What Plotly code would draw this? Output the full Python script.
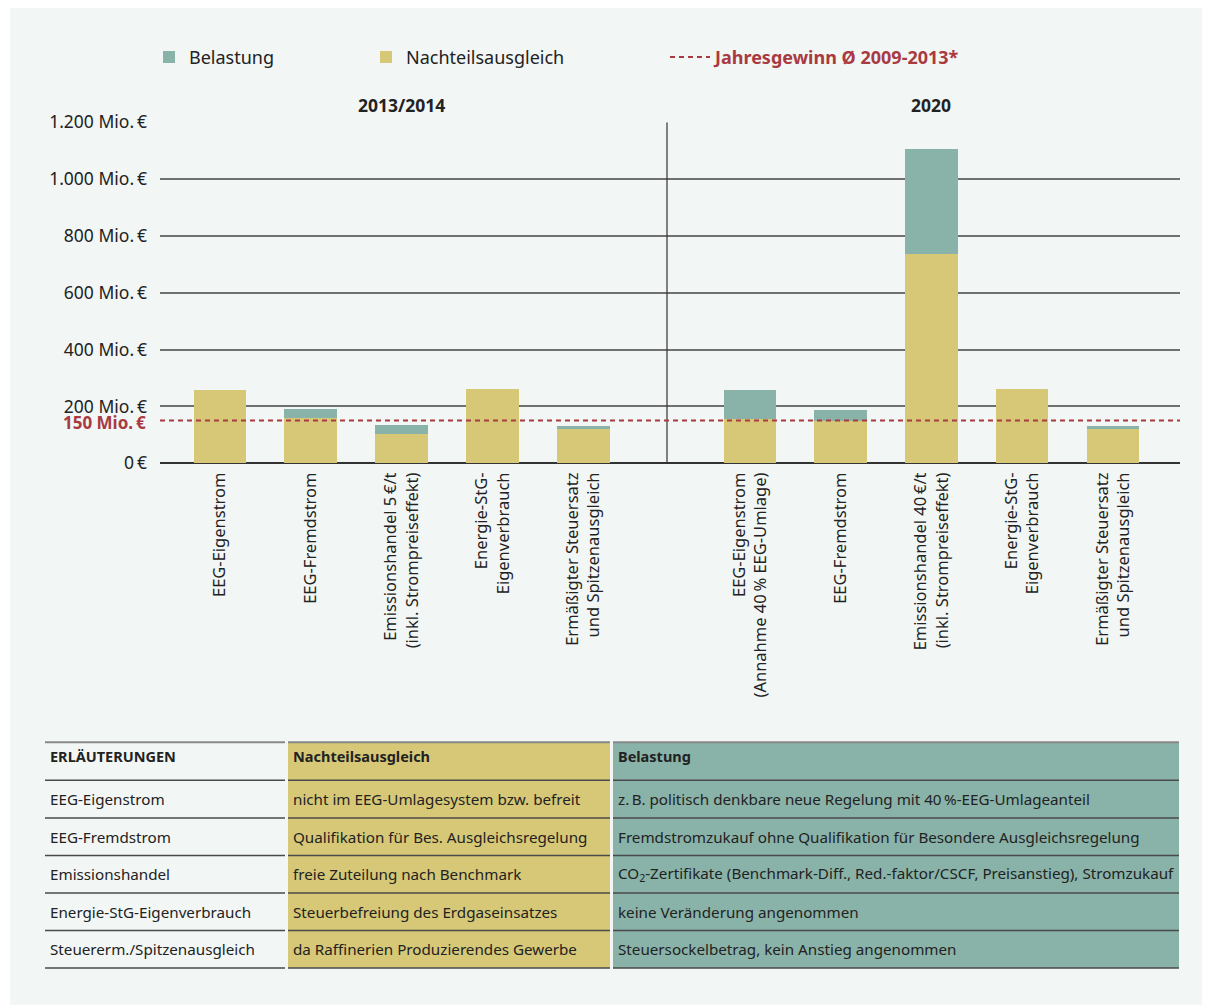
import plotly.graph_objects as go

W, H = 1210, 1007
PAD = 8          # browser body margin
Y_SCALE = 0.9765  # vertical scale observed in the rendered page
Y_OFF = 21.2      # vertical offset observed in the rendered page
FW, FH = W - 2 * PAD, 1012

# --- chart data (Mio. EUR) ---
labels_2013 = [
    "EEG-Eigenstrom",
    "EEG-Fremdstrom",
    "Emissionshandel 5\u202f€/t<br>(inkl. Strompreiseffekt)",
    "Energie-StG-<br>Eigenverbrauch",
    "Ermäßigter Steuersatz<br>und Spitzenausgleich",
]
nachteil_2013 = [257, 159, 103, 261, 120]
belastung_2013 = [0, 31, 31, 0, 11]

labels_2020 = [
    "EEG-Eigenstrom<br>(Annahme 40\u202f% EEG-Umlage)",
    "EEG-Fremdstrom",
    "Emissionshandel 40\u202f€/t<br>(inkl. Strompreiseffekt)",
    "Energie-StG-<br>Eigenverbrauch",
    "Ermäßigter Steuersatz<br>und Spitzenausgleich",
]
nachteil_2020 = [155, 149, 734, 261, 120]
belastung_2020 = [102, 38, 372, 0, 11]

jahresgewinn = 150
y_ticks = [0, 200, 400, 600, 800, 1000, 1200]
y_ticktext = ["0\u202f€", "200 Mio.\u202f€", "400 Mio.\u202f€", "600 Mio.\u202f€",
              "800 Mio.\u202f€", "1.000 Mio.\u202f€", "1.200 Mio.\u202f€"]

# --- explanation table ---
table_header = ["ERLÄUTERUNGEN", "Nachteilsausgleich", "Belastung"]
table_col1 = ["EEG-Eigenstrom", "EEG-Fremdstrom", "Emissionshandel",
              "Energie-StG-Eigenverbrauch", "Steuererm./Spitzenausgleich"]
table_col2 = ["nicht im EEG-Umlagesystem bzw. befreit",
              "Qualifikation für Bes. Ausgleichsregelung",
              "freie Zuteilung nach Benchmark",
              "Steuerbefreiung des Erdgaseinsatzes",
              "da Raffinerien Produzierendes Gewerbe"]
table_col3 = ["z.\u202fB. politisch denkbare neue Regelung mit 40\u202f%-EEG-Umlageanteil",
              "Fremdstromzukauf ohne Qualifikation für Besondere Ausgleichsregelung",
              "CO<sub>2</sub>-Zertifikate (Benchmark-Diff., Red.-faktor/CSCF, Preisanstieg), Stromzukauf",
              "keine Veränderung angenommen",
              "Steuersockelbetrag, kein Anstieg angenommen"]

TEAL = "#89b2a8"
YELLOW = "#d6c877"
RED = "#a93a42"
BG = "#f2f6f5"
TEXT = "#222222"
FONT = "Noto Sans"


def px(x):
    return (x - PAD) / FW


def py(y):
    return 1 - (y / Y_SCALE - Y_OFF) / FH


fig = go.Figure()

for xa, labels, nach, bel, first in [
    ("x", labels_2013, nachteil_2013, belastung_2013, True),
    ("x2", labels_2020, nachteil_2020, belastung_2020, False),
]:
    fig.add_trace(go.Bar(
        x=labels, y=nach, xaxis=xa, yaxis="y", width=0.58,
        marker=dict(color=YELLOW, line=dict(width=0)),
        name="Nachteilsausgleich", legend="legend2", showlegend=first,
    ))
    fig.add_trace(go.Bar(
        x=labels, y=bel, xaxis=xa, yaxis="y", width=0.58,
        marker=dict(color=TEAL, line=dict(width=0)),
        name="Belastung", legend="legend", showlegend=first,
    ))

# background panel
fig.add_shape(type="path", xref="paper", yref="paper", layer="below",
              path=f"M {px(10)} {py(1005)} L {px(10)} {py(7)} L {px(995)} {py(7)} "
                   f"L {px(1000)} {py(0)} L {px(1210)} {py(0)} L {px(1210)} {py(1005)} Z",
              fillcolor=BG, line=dict(width=0))

# divider between periods
fig.add_shape(type="line", xref="paper", yref="y", x0=px(667), x1=px(667),
              y0=0, y1=y_ticks[-1], line=dict(color="#333333", width=1.2))

# Jahresgewinn line
fig.add_shape(type="line", xref="paper", yref="y", x0=px(160), x1=px(1180),
              y0=jahresgewinn, y1=jahresgewinn,
              line=dict(color=RED, width=2, dash="5px,4px"),
              showlegend=True, legend="legend3",
              name="<b>Jahresgewinn Ø 2009-2013*</b>")

fig.add_annotation(xref="paper", yref="y", x=px(148), y=jahresgewinn, yshift=-2,
                   xanchor="right", yanchor="middle", showarrow=False,
                   text="<b>150 Mio.\u202f€</b>", font=dict(color=RED, size=17, family=FONT))

fig.add_annotation(xref="x", yref="y", x=labels_2013[2], y=y_ticks[-1], yshift=17,
                   showarrow=False, text="<b>2013/2014</b>",
                   font=dict(size=17.5, color=TEXT, family=FONT))
fig.add_annotation(xref="x2", yref="y", x=labels_2020[2], y=y_ticks[-1], yshift=17,
                   showarrow=False, text="<b>2020</b>",
                   font=dict(size=17.5, color=TEXT, family=FONT))

# --- table drawn as shapes + text ---
col_edges = [(45, 285), (288, 610), (613, 1179)]
col_fill = [None, YELLOW, TEAL]
row_lines = [742, 780, 818, 855.5, 893, 930.5, 968]
for (x0, x1), fill in zip(col_edges, col_fill):
    if fill:
        fig.add_shape(type="rect", xref="paper", yref="paper", layer="below",
                      x0=px(x0), x1=px(x1), y0=py(row_lines[0]), y1=py(row_lines[-1]),
                      fillcolor=fill, line=dict(width=0))
    for i, yl in enumerate(row_lines):
        col = "#888888" if i == 0 else "#4a4a4a"
        fig.add_shape(type="line", xref="paper", yref="paper",
                      x0=px(x0), x1=px(x1), y0=py(yl), y1=py(yl),
                      line=dict(color=col, width=1.5 if i else 2))

for (x0, x1), head in zip(col_edges, table_header):
    fig.add_annotation(xref="paper", yref="paper", x=px(x0 + 3), y=py(756),
                       xanchor="left", yanchor="middle", showarrow=False,
                       text=f"<b>{head}</b>", font=dict(size=14.5, color=TEXT, family=FONT))

for r, row in enumerate(zip(table_col1, table_col2, table_col3)):
    yc = (row_lines[r + 1] + row_lines[r + 2]) / 2
    for (x0, x1), txt in zip(col_edges, row):
        fig.add_annotation(xref="paper", yref="paper", x=px(x0 + 3), y=py(yc),
                           xanchor="left", yanchor="middle", showarrow=False,
                           text=txt, font=dict(size=15.2, color=TEXT, family=FONT))

legend_common = dict(orientation="h", yanchor="middle", xanchor="left",
                     bgcolor="rgba(0,0,0,0)", font=dict(size=18, color=TEXT, family=FONT))

fig.update_layout(
    width=FW, height=FH,
    margin=dict(l=0, r=0, t=0, b=0),
    paper_bgcolor="white", plot_bgcolor="rgba(0,0,0,0)",
    font=dict(family=FONT, color=TEXT),
    barmode="stack", bargap=0,
    legend=dict(x=px(149), y=py(57), **legend_common),
    legend2=dict(x=px(366), y=py(57), **legend_common),
    legend3=dict(x=px(665), y=py(57), itemwidth=40, **{**legend_common,
                 "font": dict(size=18, color=RED, family=FONT)}),
    xaxis=dict(domain=[px(160), px(667)], range=[-0.66, 4.92], anchor="y",
               tickangle=-90, ticks="", showgrid=False, showline=False,
               tickfont=dict(size=16.5, color=TEXT), ticklabelstandoff=5),
    xaxis2=dict(domain=[px(667), px(1180)], range=[-0.915, 4.74], anchor="y",
                tickangle=-90, ticks="", showgrid=False, showline=False,
                tickfont=dict(size=16.5, color=TEXT), ticklabelstandoff=5),
    yaxis=dict(domain=[py(463), py(122)], range=[0, 1200], anchor="x",
               tickvals=y_ticks, ticktext=y_ticktext, ticks="",
               showgrid=True, gridcolor="#707070", gridwidth=1.5,
               zeroline=True, zerolinecolor="#333333", zerolinewidth=1.5,
               tickfont=dict(size=17.5, color=TEXT), ticklabelstandoff=12),
)

fig.write_html("out.html")
